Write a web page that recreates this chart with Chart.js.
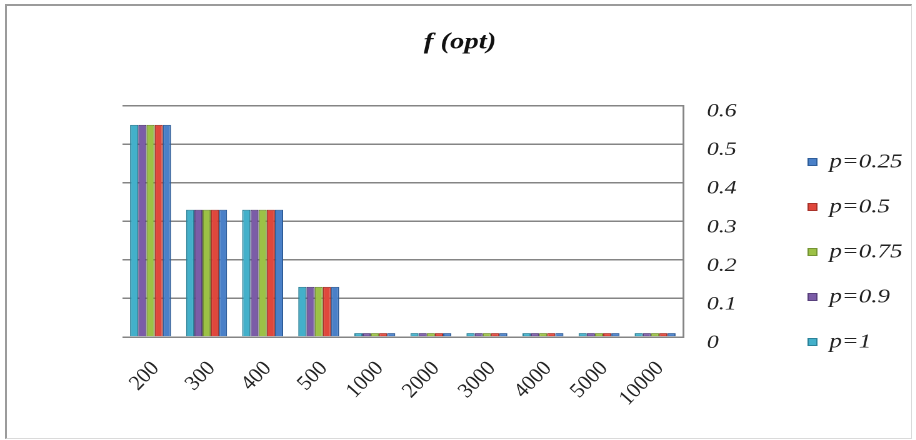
<!DOCTYPE html>
<html>
<head>
<meta charset="utf-8">
<script src="https://cdn.jsdelivr.net/npm/chart.js@4/dist/chart.umd.min.js"></script>
<style>
  html, body { margin: 0; padding: 0; background: #fff; }
  #page { position: relative; width: 916px; height: 440px; overflow: hidden; background: #fff; }
  #frame {
    position: absolute; left: 5px; top: 4px; width: 904px; height: 432px;
    border-top: 2px solid #9b9b9b; border-left: 2px solid #9b9b9b;
    border-right: 1px solid #dadada; border-bottom: 1px solid #dadada;
  }
  /* the chart is drawn on a narrower canvas and widened, giving the wide serif lettering */
  #stage { position: absolute; left: 0; top: 0; width: 733px; height: 440px; transform: scaleX(1.25); transform-origin: 0 0; }
</style>
</head>
<body>
<div id="page">
  <div id="frame"></div>
  <div id="stage"><canvas id="chart" width="733" height="440"></canvas></div>
</div>
<script>
// Sample sizes on the category axis
const categories = ['200', '300', '400', '500', '1000', '2000', '3000', '4000', '5000', '10000'];

// f(opt) for each value of p
const valuesP1   = [0.55, 0.33, 0.33, 0.13, 0.01, 0.01, 0.01, 0.01, 0.01, 0.01];
const valuesP090 = [0.55, 0.33, 0.33, 0.13, 0.01, 0.01, 0.01, 0.01, 0.01, 0.01];
const valuesP075 = [0.55, 0.33, 0.33, 0.13, 0.01, 0.01, 0.01, 0.01, 0.01, 0.01];
const valuesP050 = [0.55, 0.33, 0.33, 0.13, 0.01, 0.01, 0.01, 0.01, 0.01, 0.01];
const valuesP025 = [0.55, 0.33, 0.33, 0.13, 0.01, 0.01, 0.01, 0.01, 0.01, 0.01];

const seriesLabels = ['p=1', 'p=0.9', 'p=0.75', 'p=0.5', 'p=0.25'];

// Value axis ticks
const yTickValues = [0, 0.1, 0.2, 0.3, 0.4, 0.5, 0.6];
const yTickLabels = ['0', '0.1', '0.2', '0.3', '0.4', '0.5', '0.6'];

const chartTitle = 'f (opt)';

const serif = "'Liberation Serif', 'Times New Roman', serif";
const fills   = ['#43b0ca', '#7b5ca7', '#9cc146', '#e0473c', '#4a80c8'];
const strokes = ['#2a8299', '#58407c', '#749433', '#a8322a', '#2e5d9a'];

const seriesValues = [valuesP1, valuesP090, valuesP075, valuesP050, valuesP025];

new Chart(document.getElementById('chart'), {
  type: 'bar',
  data: {
    labels: categories,
    datasets: seriesValues.map((vals, i) => ({
      label: seriesLabels[i],
      data: vals,
      backgroundColor: fills[i],
      borderColor: strokes[i],
      borderWidth: 1,
      categoryPercentage: 0.73,
      barPercentage: 1.0
    }))
  },
  options: {
    responsive: false,
    animation: false,
    devicePixelRatio: 2,
    layout: { padding: { top: 64, bottom: 0, left: 4, right: 1 } },
    plugins: {
      title: {
        display: true,
        text: chartTitle,
        color: '#111',
        font: { family: serif, size: 23, style: 'italic', weight: 'bold' },
        // the title sits above the padded band that centres the legend
        padding: { top: -35, bottom: 49 }
      },
      legend: {
        position: 'right',
        align: 'center',
        reverse: true,
        labels: {
          boxWidth: 7,
          boxHeight: 7,
          padding: 25,
          color: '#222',
          font: { family: serif, size: 20, style: 'italic' }
        }
      },
      tooltip: { enabled: false }
    },
    scales: {
      x: {
        grid: { display: false },
        border: { display: false },
        // room under the plot for the slanted labels, and a wide left margin for the plot
        afterFit: (scale) => { scale.height = 103; scale.paddingLeft = 98; },
        ticks: {
          autoSkip: false,
          minRotation: 52,
          maxRotation: 52,
          padding: 13,
          labelOffset: 4,
          color: '#222',
          font: { family: serif, size: 19, style: 'italic' }
        }
      },
      y: {
        position: 'right',
        min: 0,
        max: 0.6,
        afterBuildTicks: (scale) => { scale.ticks = yTickValues.map(v => ({ value: v })); },
        afterFit: (scale) => { scale.width = 75; },
        grid: { color: '#858585', lineWidth: 1.5, drawTicks: false },
        border: { display: true, color: '#858585', width: 1.5 },
        ticks: {
          padding: 19,
          labelOffset: 6,
          color: '#222',
          font: { family: serif, size: 19, style: 'italic' },
          callback: (value, index) => yTickLabels[index]
        }
      }
    }
  }
});
</script>
</body>
</html>
